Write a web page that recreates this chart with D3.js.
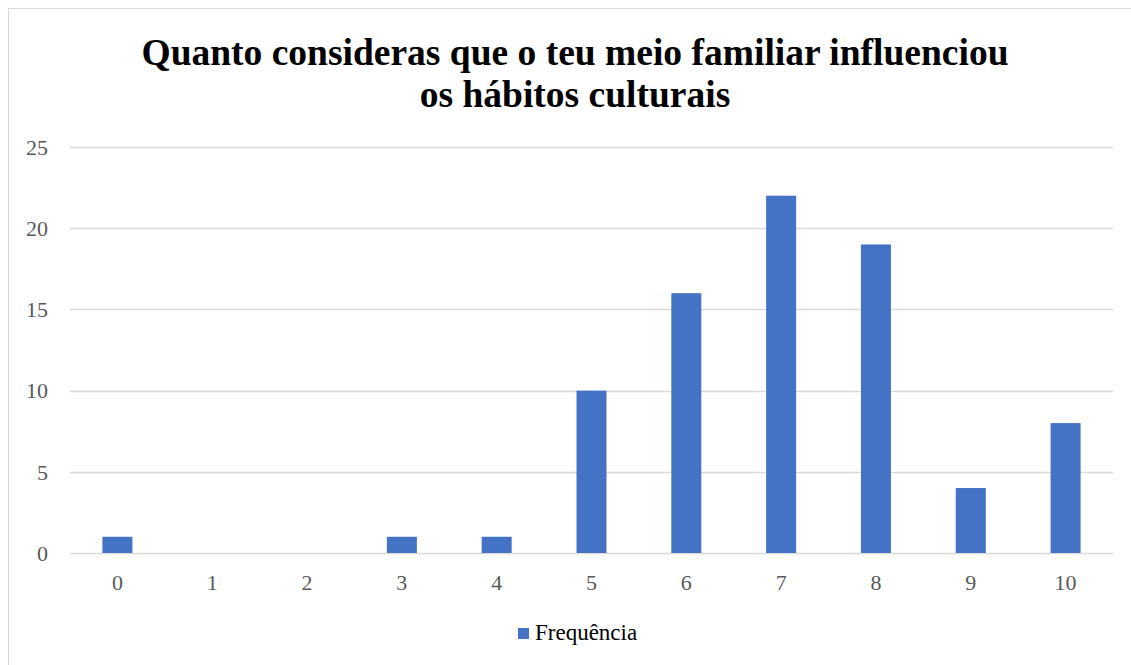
<!DOCTYPE html>
<html><head><meta charset="utf-8">
<script src="https://cdn.jsdelivr.net/npm/d3@7"></script>
<style>html,body{margin:0;padding:0;background:#fff;}svg{display:block;}</style>
</head><body>
<svg id="chart" width="1131" height="665"></svg>
<script>
const categories = ["0","1","2","3","4","5","6","7","8","9","10"];
const frequencia = [1,0,0,1,1,10,16,22,19,4,8];
const yTicks = [0,5,10,15,20,25];
const titleLines = ["Quanto consideras que o teu meio familiar influenciou","os hábitos culturais"];
const seriesName = "Frequência";

(function(){
const W = 1131, H = 665;
const svg = d3.select("#chart");
const font = "'Liberation Serif','Times New Roman',serif";
const color = "#4472C4";

svg.append("rect").attr("x",8.5).attr("y",8.5).attr("width",W).attr("height",H)
  .attr("fill","#fff").attr("stroke","#d9d9d9").attr("stroke-width",1);

const pL = 70, pR = 1113, pT = 147, pB = 553;
const x = d3.scaleBand().domain(categories).range([pL,pR]).padding(0);
const y = d3.scaleLinear().domain([0,25]).range([pB,pT]);

// gridlines
svg.append("g").selectAll("line").data(yTicks).join("line")
  .attr("x1",pL).attr("x2",pR)
  .attr("y1",d=>Math.round(y(d))+0.5).attr("y2",d=>Math.round(y(d))+0.5)
  .attr("stroke","#d9d9d9").attr("stroke-width",1.3);

// y labels
svg.append("g").selectAll("text").data(yTicks).join("text")
  .attr("x",48).attr("y",d=>y(d)).attr("dy","0.35em").attr("text-anchor","end")
  .attr("font-family",font).attr("font-size",22).attr("fill","#595959")
  .text(d=>d);

// bars
const bw = 30;
svg.append("g").selectAll("rect").data(frequencia).join("rect")
  .attr("x",(d,i)=>x(categories[i])+x.bandwidth()/2-bw/2)
  .attr("y",d=>y(d)).attr("width",bw).attr("height",d=>y(0)-y(d))
  .attr("fill",color);

// x labels
svg.append("g").selectAll("text").data(categories).join("text")
  .attr("x",d=>x(d)+x.bandwidth()/2).attr("y",590).attr("text-anchor","middle")
  .attr("font-family",font).attr("font-size",22).attr("fill","#595959")
  .text(d=>d);

// title
svg.append("g").selectAll("text").data(titleLines).join("text")
  .attr("x",575).attr("y",(d,i)=>65+i*42).attr("text-anchor","middle")
  .attr("font-family",font).attr("font-size",37.5).attr("font-weight","bold").attr("fill","#000")
  .text(d=>d);

// legend
svg.append("rect").attr("x",518).attr("y",628).attr("width",11).attr("height",11).attr("fill",color);
svg.append("text").attr("x",535).attr("y",640).attr("font-family",font).attr("font-size",23)
  .attr("fill","#000").text(seriesName);
})();
</script>
</body></html>
